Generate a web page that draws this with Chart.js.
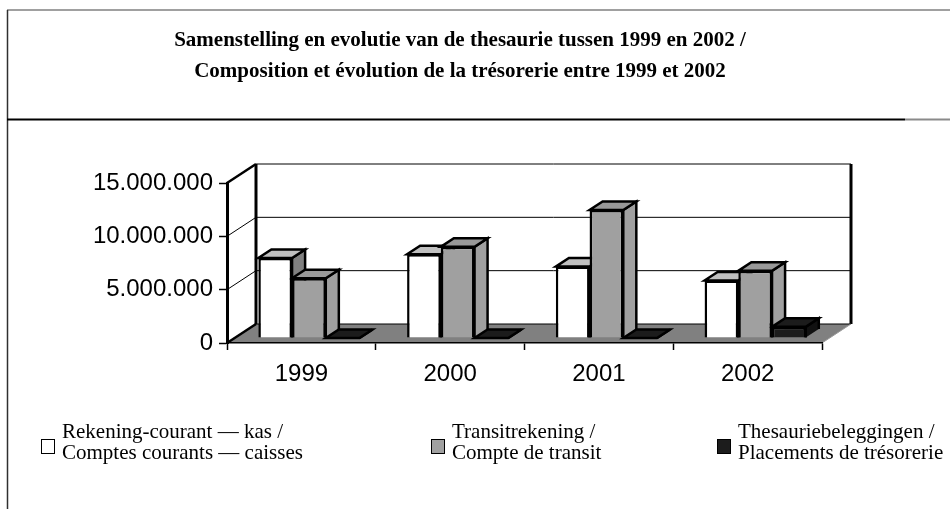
<!DOCTYPE html>
<html>
<head>
<meta charset="utf-8">
<script src="https://cdn.jsdelivr.net/npm/chart.js@4"></script>
<style>
  body { margin: 0; background: #fff; }
  #wrap { width: 950px; height: 509px; position: relative; }
</style>
</head>
<body>
<div id="wrap"><canvas id="chart-thesaurie"></canvas></div>
<script>
const titleLines = [
    'Samenstelling en evolutie van de thesaurie tussen 1999 en 2002 /',
    'Composition et évolution de la trésorerie entre 1999 et 2002'
];
const categories = ['1999', '2000', '2001', '2002'];
const yTicks = [0, 5000000, 10000000, 15000000];

const rekeningCourant = [7500000, 7850000, 6700000, 5400000];
const transit = [5600000, 8550000, 12000000, 6300000];
const beleggingen = [0, 0, 0, 1050000];

const seriesLabels = [
    ['Rekening-courant \u2014 kas /', 'Comptes courants \u2014 caisses'],
    ['Transitrekening /', 'Compte de transit'],
    ['Thesauriebeleggingen /', 'Placements de trésorerie']
];

// front, top, side colours of the 3d columns
const faces = [
    { front: '#ffffff', top: '#c0c0c0', side: '#808080' },
    { front: '#a0a0a0', top: '#999999', side: '#a0a0a0' },
    { front: '#1c1c1c', top: '#1c1c1c', side: '#111111' }
];

const depth = { dx: 29, dy: -19 };
const barFront = 0.26, barBack = 0.71;

function formatNl(v) {
    return String(v).replace(/\B(?=(\d{3})+(?!\d))/g, '.');
}

function line(ctx, x1, y1, x2, y2) {
    ctx.beginPath();
    ctx.moveTo(x1, y1);
    ctx.lineTo(x2, y2);
    ctx.stroke();
}

const box3d = {
    id: 'box3d',
    beforeDraw(chart) {
        const { ctx, chartArea: a, scales: { y } } = chart;
        const { dx, dy } = depth;
        ctx.save();
        /* vloer */
        ctx.fillStyle = '#808080';
        ctx.beginPath();
        ctx.moveTo(a.left, a.bottom);
        ctx.lineTo(a.right, a.bottom);
        ctx.lineTo(a.right + dx, a.bottom + dy);
        ctx.lineTo(a.left + dx, a.bottom + dy);
        ctx.closePath();
        ctx.fill();

        ctx.strokeStyle = '#000';
        y.ticks.forEach(t => {
            const py = y.getPixelForValue(t.value);
            ctx.lineWidth = 1;
            line(ctx, a.left + dx, py + dy, a.right + dx, py + dy);
            ctx.lineWidth = (t.value === y.max || t.value === y.min) ? 2.5 : 1;
            line(ctx, a.left, py, a.left + dx, py + dy);
        });
        ctx.lineWidth = 3;
        line(ctx, a.left + dx, a.top + dy, a.left + dx, a.bottom + dy);
        line(ctx, a.right + dx, a.top + dy, a.right + dx, a.bottom + dy);
        ctx.strokeStyle = '#9a9a9a';
        ctx.lineWidth = 1;
        line(ctx, a.right, a.bottom, a.right + dx, a.bottom + dy);
        ctx.restore();
    },
    beforeDatasetsDraw(chart) {
        const { ctx } = chart;
        const bdx = depth.dx * (barBack - barFront);
        const bdy = depth.dy * (barBack - barFront);
        ctx.save();
        ctx.translate(depth.dx * barFront, depth.dy * barFront);
        ctx.lineWidth = 2.5;
        ctx.lineJoin = 'miter';
        ctx.strokeStyle = '#000';
        for (let j = 0; j < categories.length; j++) {
            chart.data.datasets.forEach((ds, i) => {
                const el = chart.getDatasetMeta(i).data[j];
                const l = el.x - el.width / 2, r = el.x + el.width / 2;
                const t = el.y, b = el.base;
                // zijvlak
                ctx.fillStyle = faces[i].side;
                ctx.beginPath();
                ctx.moveTo(r, b);
                ctx.lineTo(r, t);
                ctx.lineTo(r + bdx, t + bdy);
                ctx.lineTo(r + bdx, b + bdy);
                ctx.fill();
                ctx.stroke();
                // bovenvlak
                ctx.fillStyle = faces[i].top;
                ctx.beginPath();
                ctx.moveTo(l, t);
                ctx.lineTo(r, t);
                ctx.lineTo(r + bdx, t + bdy);
                ctx.lineTo(l + bdx, t + bdy);
                ctx.closePath();
                ctx.fill();
                ctx.stroke();
            });
        }
        // translatie blijft staan voor de voorvlakken van Chart.js
    },
    afterDatasetsDraw(chart) {
        chart.ctx.restore();
    },
    afterDraw(chart) {
        const { ctx } = chart;
        ctx.save();
        /* kader */
        ctx.strokeStyle = '#808080';
        ctx.lineWidth = 1.5;
        line(ctx, 7, 10, 950, 10);
        ctx.strokeStyle = '#303030';
        line(ctx, 7.5, 10, 7.5, 509);
        ctx.lineWidth = 2;
        ctx.strokeStyle = '#000';
        line(ctx, 7, 119.5, 905, 119.5);
        ctx.strokeStyle = '#8a8a8a';
        line(ctx, 905, 119.5, 950, 119.5);

        /* titel */
        ctx.fillStyle = '#000';
        ctx.textAlign = 'center';
        ctx.textBaseline = 'alphabetic';
        ctx.font = 'bold 21px "Liberation Serif"';
        ctx.fillText(titleLines[0], 460, 46);
        ctx.fillText(titleLines[1], 460, 77);

        /* legende */
        const boxX = [41, 431, 717];
        ctx.font = '21px "Liberation Serif"';
        ctx.textAlign = 'left';
        chart.data.datasets.forEach((ds, i) => {
            const x = boxX[i];
            ctx.fillStyle = ds.backgroundColor;
            ctx.fillRect(x, 439, 14, 15);
            ctx.strokeStyle = '#000';
            ctx.lineWidth = 1;
            ctx.strokeRect(x + 0.5, 439.5, 13, 14);
            ctx.fillStyle = '#000';
            ctx.fillText(seriesLabels[i][0], x + 21, 437.5);
            ctx.fillText(seriesLabels[i][1], x + 21, 458.5);
        });
        ctx.restore();
    }
};

const axisFont = { family: 'Liberation Sans', size: 24 };

const chartThesaurie = new Chart(document.getElementById('chart-thesaurie').getContext('2d'), {
    type: 'bar',
    data: {
        labels: categories,
        datasets: [rekeningCourant, transit, beleggingen].map((values, i) => ({
            label: seriesLabels[i].join(' '),
            data: values,
            backgroundColor: faces[i].front,
            borderColor: '#000',
            borderWidth: 2.5,
            categoryPercentage: 0.68,
            barPercentage: 1
        }))
    },
    options: {
        responsive: true,
        maintainAspectRatio: false,
        animation: false,
        layout: {
            padding: { top: 183, left: 8, right: 128, bottom: 116 }
        },
        scales: {
            x: {
                ticks: { font: axisFont, color: '#000', padding: 10, maxRotation: 0 },
                grid: { offset: true, drawOnChartArea: false, tickLength: 7, tickColor: '#000', tickWidth: 1.5 },
                border: { color: '#000', width: 1.5 },
                afterFit: s => { s.height = 50; }
            },
            y: {
                min: 0,
                max: 15000000,
                afterBuildTicks: s => { s.ticks = yTicks.map(v => ({ value: v })); },
                ticks: { font: axisFont, color: '#000', padding: 6, callback: v => formatNl(v) },
                grid: { drawOnChartArea: false, tickLength: 8, tickColor: '#000', tickWidth: 1.5 },
                border: { color: '#000', width: 3 },
                afterFit: s => { s.width = 219; }
            }
        },
        plugins: {
            legend: { display: false },
            title: { display: false },
            tooltip: { enabled: false }
        }
    },
    plugins: [box3d]
});
</script>
</body>
</html>
